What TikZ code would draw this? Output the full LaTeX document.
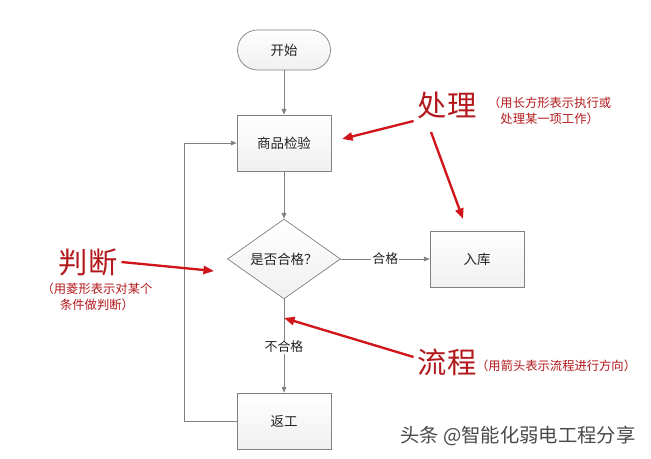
\documentclass[tikz,border=0pt]{standalone}
\usepackage{fontspec}
\setmainfont{Noto Sans CJK SC}
\usepackage{tikz}
\usetikzlibrary{arrows.meta,positioning,calc,shapes.geometric}
\definecolor{ink}{HTML}{222222}
\definecolor{edge}{HTML}{808080}
\definecolor{note}{HTML}{B3191C}
\definecolor{pen}{HTML}{D0161B}
\definecolor{wmgray}{HTML}{4A4A4A}
\tikzset{
  boxfill/.style={top color=white,bottom color=gray!12,draw=edge,line width=.6pt},
  procbox/.style={boxfill,minimum width=2.82cm,minimum height=1.68cm,font=\fontsize{11.5}{12}\selectfont,text=ink},
  termbox/.style={boxfill,rounded corners=.6cm,minimum width=2.79cm,minimum height=1.2cm,font=\fontsize{11.5}{12}\selectfont,text=ink},
  askbox/.style={boxfill,diamond,inner sep=0pt,minimum width=3.39cm,minimum height=2.04cm,font=\fontsize{11.5}{12}\selectfont,text=ink},
  flow/.style={edge,line width=.6pt,-{Triangle[length=5pt,width=4pt]}},
  flowtag/.style={fill=white,text=ink,font=\fontsize{11}{12}\selectfont,inner sep=1pt},
  hint/.style={pen,line width=2pt,-{Triangle[length=9pt,width=7pt]}},
  bigword/.style={note,font=\fontsize{25}{25}\selectfont},
  smallnote/.style={note,font=\fontsize{10.5}{14}\selectfont,align=center}
}
\begin{document}
\begin{tikzpicture}[x=0.03cm,y=-0.03cm]
\useasboundingbox[fill=white] (0,0) rectangle (651,459);
% flow chart
\node[termbox] (start) at (284,50) {开始};
\node[procbox] (check) at (284,143) {商品检验};
\node[askbox] (decide) at (284,259) {是否合格？};
\node[procbox] (store) at (477,259) {入库};
\node[procbox] (rework) at (284,421) {返工};
\draw[flow] (start) -- (check);
\draw[flow] (check) -- (decide);
\draw[flow] (decide) -- node[flowtag] {合格} (store);
\draw[flow] (decide) -- node[flowtag,pos=.51] {不合格} (rework);
\draw[flow] (rework.west) -- ++(-52,0) |- (check.west);
% red notes
\node[bigword] (lblproc) at (447,105) {处理};
\node[smallnote,anchor=west] (noteproc) at (484,111) {（用长方形表示执行或\\ 处理某一项工作）};
\node[bigword] (lbljudge) at (88,262) {判断};
\node[smallnote] (notejudge) at (97,297) {（用菱形表示对某个\\ 条件做判断）};
\node[bigword] (lblflow) at (447,362) {流程};
\node[smallnote,anchor=west] (noteflow) at (472,366) {（用箭头表示流程进行方向）};
\coordinate (tipcheck) at (342,139);
\coordinate (tipstore) at (463,219);
\coordinate (tipask) at (214,271);
\coordinate (tipline) at (284,318);
\draw[hint] (lblproc.west |- 0,121) -- (tipcheck);
\draw[hint] (431,132) -- (tipstore);
\draw[hint] (lbljudge.east) -- (tipask);
\draw[hint] (lblflow.west |- 0,357) -- (tipline);
% watermark
\node[text=wmgray,font=\fontsize{16.5}{17}\selectfont] (wm) at (518,436) {头条 @智能化弱电工程分享};
\end{tikzpicture}
\end{document}
